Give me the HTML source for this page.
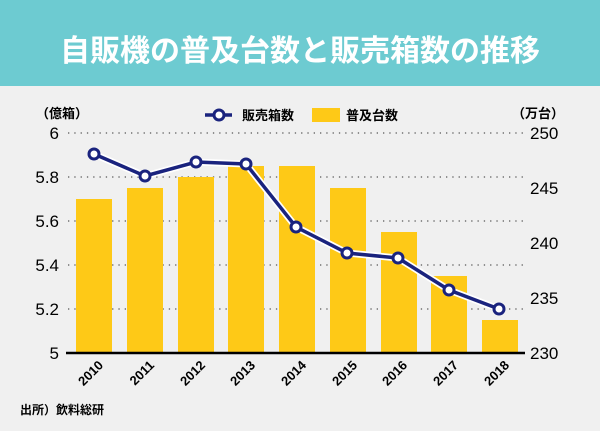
<!DOCTYPE html>
<html><head><meta charset="utf-8"><style>
body{margin:0;width:600px;height:431px;background:#f0f0f0;overflow:hidden;font-family:"Liberation Sans","Noto Sans CJK JP",sans-serif}
</style></head><body>
<svg width="600" height="431" xmlns="http://www.w3.org/2000/svg" style="display:block">
<rect width="600" height="431" fill="#f0f0f0"/>
<rect width="600" height="86" fill="#6dcbd1"/>
<text x="300" y="61" text-anchor="middle" fill="#fff" font-size="30" font-weight="bold" font-family="'Noto Sans CJK JP',sans-serif">自販機の普及台数と販売箱数の推移</text>
<g stroke="#555" stroke-width="1.3" stroke-dasharray="1.3 5">
<line x1="68" x2="523" y1="133" y2="133"/><line x1="68" x2="523" y1="177" y2="177"/><line x1="68" x2="523" y1="221" y2="221"/><line x1="68" x2="523" y1="265" y2="265"/><line x1="68" x2="523" y1="309" y2="309"/>
</g>
<g fill="#fec917">
<rect x="76" y="199" width="36" height="154"/><rect x="127" y="188" width="36" height="165"/><rect x="178" y="177" width="36" height="176"/><rect x="228" y="166" width="36" height="187"/><rect x="279" y="166" width="36" height="187"/><rect x="330" y="188" width="36" height="165"/><rect x="381" y="232" width="36" height="121"/><rect x="431" y="276" width="36" height="77"/><rect x="482" y="320" width="36" height="33"/>
</g>
<line x1="66" x2="525" y1="353" y2="353" stroke="#000" stroke-width="2.5"/>
<polyline points="94,154 145,176 196,162 246,164 296,227 347,253 398,258 449,290 499,309" fill="none" stroke="#fff" stroke-width="7"/>
<polyline points="94,154 145,176 196,162 246,164 296,227 347,253 398,258 449,290 499,309" fill="none" stroke="#1a237e" stroke-width="3.5"/>
<g fill="#fff" stroke="#1a237e" stroke-width="3">
<circle cx="94" cy="154" r="5"/><circle cx="145" cy="176" r="5"/><circle cx="196" cy="162" r="5"/><circle cx="246" cy="164" r="5"/><circle cx="296" cy="227" r="5"/><circle cx="347" cy="253" r="5"/><circle cx="398" cy="258" r="5"/><circle cx="449" cy="290" r="5"/><circle cx="499" cy="309" r="5"/>
</g>
<g font-size="17" fill="#000" text-anchor="end">
<text x="59" y="139">6</text><text x="59" y="183">5.8</text><text x="59" y="227">5.6</text><text x="59" y="271">5.4</text><text x="59" y="315">5.2</text><text x="59" y="359">5</text>
</g>
<g font-size="17" fill="#000">
<text x="530" y="139">250</text><text x="530" y="194">245</text><text x="530" y="249">240</text><text x="530" y="304">235</text><text x="530" y="359">230</text>
</g>
<text x="36" y="118" font-size="13" font-weight="bold">（億箱）</text>
<text x="512" y="118" font-size="13" font-weight="bold">（万台）</text>
<line x1="205" x2="232" y1="115" y2="115" stroke="#1a237e" stroke-width="3.5"/>
<circle cx="219" cy="115" r="5" fill="#fff" stroke="#1a237e" stroke-width="3"/>
<text x="242" y="120" font-size="13" font-weight="bold">販売箱数</text>
<rect x="312" y="108" width="28" height="14" fill="#fec917"/>
<text x="346" y="120" font-size="13" font-weight="bold">普及台数</text>
<g font-size="13" font-weight="bold" text-anchor="end">
<text transform="translate(104,366) rotate(-45)">2010</text><text transform="translate(155,366) rotate(-45)">2011</text><text transform="translate(206,366) rotate(-45)">2012</text><text transform="translate(256,366) rotate(-45)">2013</text><text transform="translate(307,366) rotate(-45)">2014</text><text transform="translate(358,366) rotate(-45)">2015</text><text transform="translate(408,366) rotate(-45)">2016</text><text transform="translate(459,366) rotate(-45)">2017</text><text transform="translate(510,366) rotate(-45)">2018</text>
</g>
<text x="20" y="414" font-size="12" font-weight="bold">出所）飲料総研</text>
</svg>
</body></html>
